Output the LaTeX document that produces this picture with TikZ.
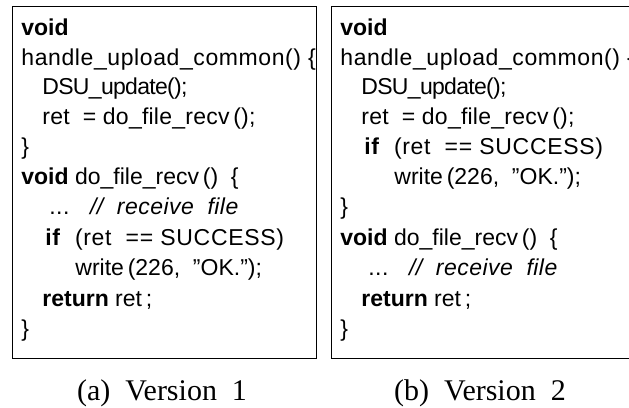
\documentclass[tikz,border=0pt]{standalone}
\usepackage{fontspec}
\setmainfont{Liberation Serif}
\newfontfamily\codefont{Liberation Sans}
\usepackage{tikz}

% letter spacing for one listing line
\newcommand{\spread}[2]{{\addfontfeature{LetterSpace=#1}#2}}

\begin{document}
\begin{tikzpicture}[x=0.5pt,y=-0.5pt]
        \tikzstyle{frame} = [draw, line width=0.6pt, inner sep=0pt, minimum height=176.25pt, anchor=north west]
        \tikzstyle{code} = [anchor=base west, inner sep=0pt, font=\codefont\fontsize{11.5}{13}\selectfont]
        \tikzstyle{caption} = [anchor=base, inner sep=0pt, font=\fontsize{15}{18}\selectfont]
        \clip (0,0) rectangle (629,408);
        % version 1
        \node[frame, minimum width=152pt] (boxA) at (12,5.5) {};
        \node[code] (a1) at (21,35) {\textbf{void}};
        \node[code] (a2) at (21,65) {\spread{2.6}{handle\_upload\_common()\ \{}};
        \node[code] (a3) at (42,94) {\spread{-3}{DSU\_update();}};
        \node[code] (a4) at (42,124) {\spread{1}{ret\ \ = do\_file\_recv\,();}};
        \node[code] (a5) at (21,154) {\}};
        \node[code] (a6) at (21,184) {\textbf{void} do\_file\_recv\,()\ \ \{};
        \node[code] (a7) at (49,214) {\spread{2}{...\ \ \ \textit{//\ \ receive\ \ file}}};
        \node[code] (a8) at (45,245) {\spread{3}{\textbf{if}\ \ (ret\ \ == SUCCESS)}};
        \node[code] (a9) at (75,275) {write\,(226,\ \ ”OK.”);};
        \node[code] (a10) at (42,306) {\textbf{return} ret\,;};
        \node[code] (a11) at (21,336) {\}};
        % version 2
        \node[frame, minimum width=160pt] (boxB) at (331,5.5) {};
        \node[code] (b1) at (340,35) {\textbf{void}};
        \node[code] (b2) at (340,65) {\spread{2.6}{handle\_upload\_common()\ \{}};
        \node[code] (b3) at (361,94) {\spread{-3}{DSU\_update();}};
        \node[code] (b4) at (361,124) {\spread{1}{ret\ \ = do\_file\_recv\,();}};
        \node[code] (b5) at (364,154) {\spread{3}{\textbf{if}\ \ (ret\ \ == SUCCESS)}};
        \node[code] (b6) at (394,184) {write\,(226,\ \ ”OK.”);};
        \node[code] (b7) at (340,214) {\}};
        \node[code] (b8) at (340,245) {\textbf{void} do\_file\_recv\,()\ \ \{};
        \node[code] (b9) at (368,275) {\spread{2}{...\ \ \ \textit{//\ \ receive\ \ file}}};
        \node[code] (b10) at (361,306) {\textbf{return} ret\,;};
        \node[code] (b11) at (340,336) {\}};
        % captions
        \node[caption] (capA) at (162,400) {(a)\ \ Version\ \ 1};
        \node[caption] (capB) at (480,400) {(b)\ \ Version\ \ 2};
\end{tikzpicture}
\end{document}
